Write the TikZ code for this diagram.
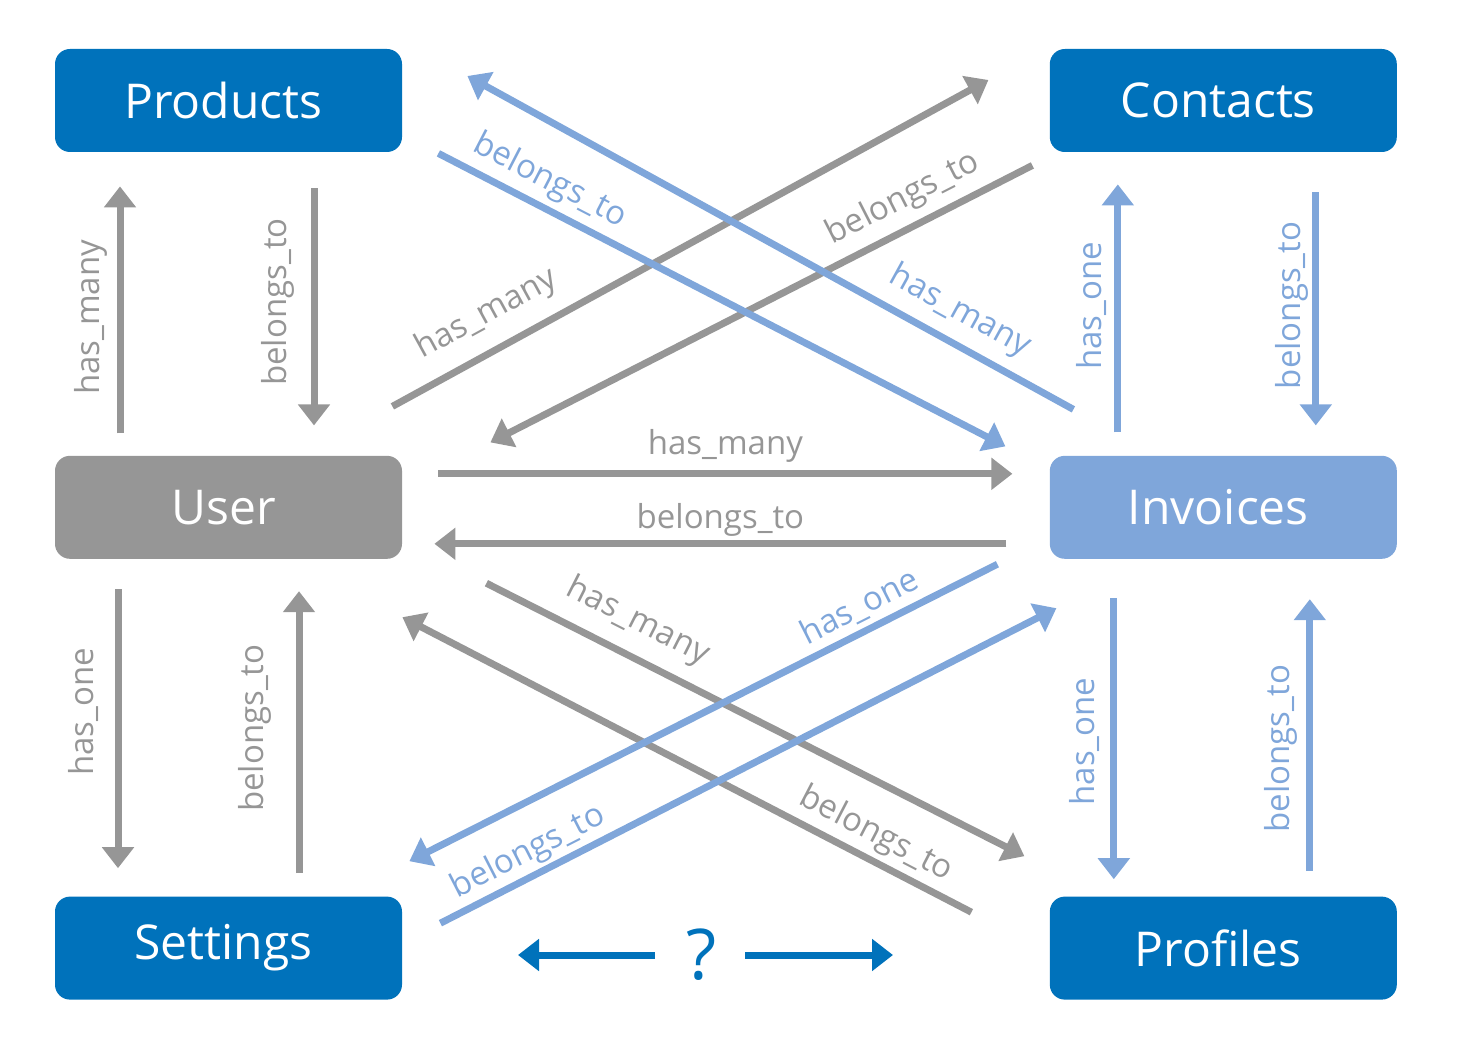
\documentclass[tikz,border=0pt]{standalone}
\usepackage{fontspec}
\setmainfont{Open Sans}
\usetikzlibrary{arrows.meta,calc,positioning}

\definecolor{dblue}{RGB}{0,114,187}
\definecolor{lblue}{RGB}{127,166,218}
\definecolor{mgray}{RGB}{150,150,150}

\begin{document}
\begin{tikzpicture}[x=0.5pt, y=-0.5pt, node distance=151.5pt and 323.5pt,
 >={Triangle[length=10.5pt,width=15.5pt]},
 block/.style  = {rectangle, rounded corners=7.5pt, minimum width=173.5pt,
                  minimum height=51.5pt, inner sep=0pt, text=white,
                  font=\fontsize{24}{28}\selectfont,
                  execute at begin node=\hspace*{-5pt}},
 bblock/.style = {block, fill=dblue},
 gblock/.style = {block, fill=mgray},
 lblock/.style = {block, fill=lblue},
 link/.style   = {->, line width=3.5pt},
 glink/.style  = {link, draw=mgray},
 blink/.style  = {link, draw=lblue},
 qlink/.style  = {link, draw=dblue},
 lbl/.style    = {font=\fontsize{16.5}{18}\selectfont, inner sep=2pt},
 glbl/.style   = {lbl, text=mgray},
 blbl/.style   = {lbl, text=lblue},
 vlbl/.style   = {rotate=90, anchor=south, inner ysep=#1},
 slbl/.style   = {sloped, anchor=south, inner ysep=#1},
                        ]
    \useasboundingbox (0,0) rectangle (1460,1048);

    \node [bblock]                          (prod)  at (228.5,100.5) {Products};
    \node [gblock, below=of prod]           (user)  {User};
    \node [bblock, below=168.5pt of user]   (set)   {Settings};
    \node [bblock, right=of prod]           (cont)  {Contacts};
    \node [lblock, right=of user]           (inv)   {Invoices};
    \node [bblock, right=of set]            (prof)  {Profiles};
    \node [text=dblue, inner sep=0pt, font=\fontsize{35}{40}\selectfont]
                                            (q)     at (702,955) {?};

    % left column
    \draw[glink] ($(user.north)+(-108.5,-22)$) -- node[glbl, vlbl=4.5pt, pos=0.47] {has\_many} ($(prod.south)+(-108.5,34)$);
    \draw[glink] ($(prod.south)+(85.5,36)$) -- node[glbl, vlbl=8.25pt, pos=0.48] {belongs\_to} ($(user.north)+(85.5,-30)$);
    \draw[glink] ($(user.south)+(-110.5,30)$) -- node[glbl, vlbl=7.75pt, pos=0.44] {has\_one} ($(set.north)+(-110.5,-28)$);
    \draw[glink] ($(set.north)+(70.5,-23)$) -- node[glbl, vlbl=12pt, pos=0.514] {belongs\_to} ($(user.south)+(70.5,32)$);

    % right column
    \draw[blink] ($(inv.north)+(-105.5,-23)$) -- node[blbl, vlbl=3.65pt, pos=0.51] {has\_one} ($(cont.south)+(-105.5,32)$);
    \draw[blink] ($(cont.south)+(92.5,40)$) -- node[blbl, vlbl=2pt, pos=0.485] {belongs\_to} ($(inv.north)+(92.5,-30)$);
    \draw[blink] ($(inv.south)+(-109.5,39)$) -- node[blbl, vlbl=5.25pt, pos=0.51] {has\_one} ($(prof.north)+(-109.5,-17)$);
    \draw[blink] ($(prof.north)+(86.5,-25)$) -- node[blbl, vlbl=4.5pt, pos=0.45] {belongs\_to} ($(inv.south)+(86.5,40)$);

    % user and invoices
    \draw[glink] ($(user.east)+(36,-33.5)$) -- node[glbl, above=2pt] {has\_many} ($(inv.west)+(-37,-33.5)$);
    \draw[glink] ($(inv.west)+(-43,36.5)$) -- node[glbl, above=0pt] {belongs\_to} ($(user.east)+(32,36.5)$);

    % crossings
    \draw[glink] ($(user.north east)+(-10,-49)$) -- node[glbl, slbl=7.75pt, pos=0.187] {has\_many} ($(cont.west)+(-61,-20.5)$);
    \draw[glink] ($(cont.south west)+(-17,13)$) -- node[glbl, slbl=4.5pt, pos=0.214] {belongs\_to} ($(user.north east)+(88,-13)$);
    \draw[blink] ($(inv.north west)+(24,-46)$) -- node[blbl, slbl=5.5pt, pos=0.212] {has\_many} ($(prod.east)+(65,-24.5)$);
    \draw[blink] ($(prod.south east)+(36,1)$) -- node[blbl, slbl=3.2pt, pos=0.175] {belongs\_to} ($(inv.north west)+(-44,-9)$);
    \draw[glink] ($(user.south east)+(84,24)$) -- node[glbl, slbl=7pt, pos=0.253] {has\_many} ($(prof.north west)+(-25,-40)$);
    \draw[glink] ($(prof.north west)+(-78,16)$) -- node[glbl, slbl=2.5pt, pos=0.188] {belongs\_to} ($(user.south east)+(0,58)$);
    \draw[blink] ($(inv.south west)+(-52,5)$) -- node[blbl, slbl=2.5pt, pos=0.216] {has\_one} ($(set.north east)+(7,-35)$);
    \draw[blink] ($(set.north east)+(38,27)$) -- node[blbl, slbl=1.5pt, pos=0.16] {belongs\_to} ($(inv.south west)+(7,49)$);

    % question
    \draw[qlink] ($(q)+(-47,0)$) -- ($(q)+(-184,0)$);
    \draw[qlink] ($(q)+(43,0)$) -- ($(q)+(191,0)$);
\end{tikzpicture}
\end{document}
